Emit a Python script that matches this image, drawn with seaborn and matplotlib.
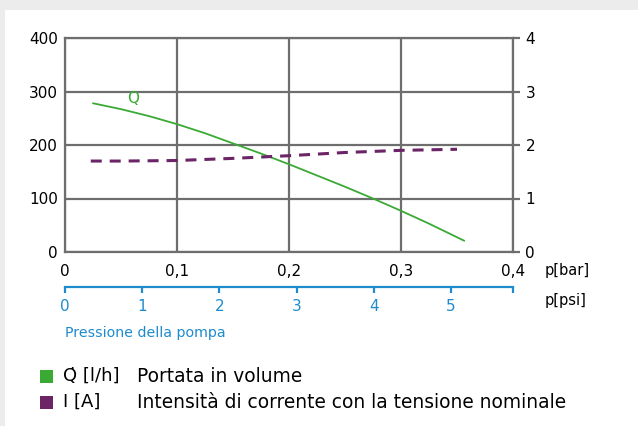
import matplotlib
matplotlib.use("Agg")
import matplotlib.pyplot as plt
from matplotlib.patches import Rectangle
import pandas as pd
import seaborn as sns

# pump characteristic
pressure_bar_q = [0.025, 0.05, 0.075, 0.1, 0.125, 0.15, 0.175, 0.2, 0.225, 0.25, 0.275, 0.3, 0.325, 0.3565]
flow_lh = [278, 267, 254, 239, 222, 203, 184, 164, 143, 122, 100, 77, 53, 21]

pressure_bar_i = [0.023, 0.05, 0.1, 0.15, 0.2, 0.25, 0.3, 0.35]
current_a = [1.70, 1.70, 1.71, 1.75, 1.80, 1.86, 1.90, 1.92]

bar_ticks = [0, 0.1, 0.2, 0.3, 0.4]
bar_labels = ["0", "0,1", "0,2", "0,3", "0,4"]
psi_ticks = [0, 1, 2, 3, 4, 5]
flow_ticks = [0, 100, 200, 300, 400]
current_ticks = [0, 1, 2, 3, 4]
BAR_TO_PSI = 14.5038

GREEN = "#3aaa35"
PURPLE = "#6b2466"
BLUE = "#1e8bcd"
GRID = "#6e6e6e"
W, H = 638, 426

sns.set_style("white")
plt.rcParams["font.family"] = ["DejaVu Sans"]
plt.rcParams["text.color"] = "black"


def fx(x):
    return x / W


def fy(y):
    return 1 - y / H


fig = plt.figure(figsize=(W / 100, H / 100), dpi=100, facecolor="white")
# grey page edge at the top and left
fig.patches.append(Rectangle((0, fy(10)), 1, 1, transform=fig.transFigure,
                             facecolor="#ececec", edgecolor="none", zorder=-1))
fig.patches.append(Rectangle((0, 0), fx(5), 1, transform=fig.transFigure,
                             facecolor="#ececec", edgecolor="none", zorder=-1))

ax = fig.add_axes([fx(65), fy(252), fx(513) - fx(65), fy(38) - fy(252)])
ax.set_facecolor("none")

df_q = pd.DataFrame({"p": pressure_bar_q, "q": flow_lh})
df_i = pd.DataFrame({"p": pressure_bar_i, "i": current_a})

sns.lineplot(data=df_q, x="p", y="q", ax=ax, color=GREEN, lw=1.3, zorder=3)
ax.set_xlim(0, 0.4)
ax.set_ylim(0, 400)
ax.set_xticks(bar_ticks)
ax.set_xticklabels(bar_labels)
ax.set_yticks(flow_ticks)
ax.grid(True, color=GRID, lw=1.6)
ax.set_axisbelow(True)
for s in ax.spines.values():
    s.set_color(GRID)
    s.set_linewidth(1.6)
ax.tick_params(axis="both", length=0, labelsize=11, colors="black")
ax.tick_params(axis="x", pad=9)
ax.tick_params(axis="y", pad=5)
ax.set_xlabel("")
ax.set_ylabel("")
ax.text(0.061, 287, "Q\u0307", color=GREEN, fontsize=11, ha="center", va="center")

ax2 = ax.twinx()
sns.lineplot(data=df_i, x="p", y="i", ax=ax2, color=PURPLE, lw=2.2, zorder=3)
ax2.lines[0].set_dashes([3.6, 2.6])
ax2.set_ylim(0, 4)
ax2.set_yticks(current_ticks)
ax2.set_ylabel("")
for s in ax2.spines.values():
    s.set_visible(False)
ax2.yaxis.set_ticks_position("right")
ax2.tick_params(axis="y", which="major", left=False, right=True,
                direction="out", length=5, width=1.6, color=GRID,
                labelsize=11, labelcolor="black", pad=4)

# psi scale underneath
axp = fig.add_axes([fx(65), fy(287), fx(513) - fx(65), 0.001])
axp.set_facecolor("none")
for name, s in axp.spines.items():
    s.set_visible(name == "bottom")
axp.spines["bottom"].set_color(BLUE)
axp.spines["bottom"].set_linewidth(1.6)
axp.set_xlim(0, 0.4 * BAR_TO_PSI)
axp.set_xticks(psi_ticks)
axp.set_xticks([0.4 * BAR_TO_PSI], minor=True)
axp.set_yticks([])
axp.tick_params(axis="x", which="both", bottom=True, direction="out",
                length=4.5, width=1.6, color=BLUE, labelcolor=BLUE,
                labelsize=11, pad=4)

fig.text(fx(545), fy(270), "p[bar]", fontsize=10.5, va="center", ha="left")
fig.text(fx(545), fy(300), "p[psi]", fontsize=10.5, va="center", ha="left")
fig.text(fx(65), fy(333), "Pressione della pompa", fontsize=10.2, color=BLUE,
         va="center", ha="left")

# legend
legend_rows = [
    (GREEN, "Q\u0307 [l/h]", "Portata in volume", 376),
    (PURPLE, "I [A]", "Intensità di corrente con la tensione nominale", 402),
]
for col, sym, desc, yc in legend_rows:
    fig.patches.append(Rectangle((fx(40), fy(yc + 7)), fx(13), 13 / H,
                                 transform=fig.transFigure, facecolor=col,
                                 edgecolor="none"))
    fig.text(fx(63), fy(yc), sym, fontsize=13, va="center", ha="left")
    fig.text(fx(137), fy(yc), desc, fontsize=13.4, va="center", ha="left")

fig.savefig("out.png", dpi=100, facecolor=fig.get_facecolor())
